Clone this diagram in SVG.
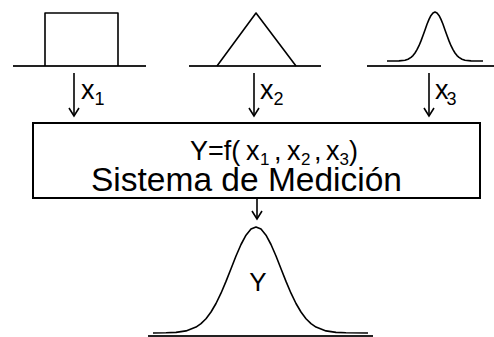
<svg xmlns="http://www.w3.org/2000/svg" width="494" height="337" viewBox="0 0 494 337">
<style>
.ln{fill:none;stroke:#000;stroke-width:1.6;stroke-linejoin:round;stroke-linecap:butt}
.base{fill:none;stroke:#222;stroke-width:1.8}
.t{font-family:"Liberation Sans",Arial,sans-serif;fill:#000}
.sub{font-size:17px}
</style>
<defs>
<marker id="ah" markerWidth="12" markerHeight="12" refX="10" refY="6" orient="auto" markerUnits="userSpaceOnUse" viewBox="0 0 12 12">
<path d="M2,1 L10,6 L2,11" fill="none" stroke="#000" stroke-width="1.6"/>
</marker>
</defs>
<rect width="494" height="337" fill="#fff"/>
<g id="dist1">
<line class="base" x1="13" y1="66" x2="146" y2="66"/>
<path class="ln" d="M45,66 V13 H118 V66"/>
</g>
<g id="dist2">
<line class="base" x1="189" y1="66" x2="321" y2="66"/>
<path class="ln" d="M217,66 L256,13 L296,66"/>
</g>
<g id="dist3">
<line class="base" x1="367" y1="66" x2="494" y2="66"/>
<polyline class="ln" points="387,61 399,60.9 405,60.2 408,59.2 411,57.4 413,55.6 415,53 417,49.7 419,45.7 421,40.9 423,35.5 425,29.9 427,24.3 429,19.4 431,15.4 433,12.9 435,12 437,12.9 439,15.4 441,19.4 443,24.3 445,29.9 447,35.5 449,40.9 451,45.7 453,49.7 455,53 457,55.6 459,57.4 462,59.2 465,60.2 471,60.9 483,61"/>
</g>
<g id="label-x1"><text class="t" x="81" y="99" font-size="27">x<tspan font-size="18" dy="6">1</tspan></text></g>
<g id="label-x2"><text class="t" x="260" y="99" font-size="27">x<tspan font-size="18" dy="6">2</tspan></text></g>
<g id="label-x3"><text class="t" x="435" y="99" font-size="27">x<tspan font-size="18" dy="6" dx="-2">3</tspan></text></g>
<g id="system">
<rect x="33" y="123" width="447" height="75" fill="none" stroke="#000" stroke-width="2"/>
<text class="t" y="160" font-size="27"><tspan x="190">Y=f(</tspan><tspan x="246">x</tspan><tspan class="sub" x="260" y="165">1</tspan><tspan x="274" y="160">,</tspan><tspan x="287">x</tspan><tspan class="sub" x="301" y="165">2</tspan><tspan x="314" y="160">,</tspan><tspan x="326">x</tspan><tspan class="sub" x="339.5" y="165">3</tspan><tspan x="349" y="160">)</tspan></text>
<text class="t" x="91" y="191" font-size="33.5">Sistema de Medición</text>
</g>
<g id="output">
<line class="base" x1="148" y1="336" x2="373" y2="336"/>
<polyline class="ln" points="153,333 166,332.8 176,332.4 186,330.9 196,327.1 201,323.6 206,318.7 211,312 216,303.5 221,293.2 226,281.4 231,268.7 236,256 241,244.5 246,235.2 251,229.1 256,227 261,229.1 266,235.2 271,244.5 276,256 281,268.7 286,281.4 291,293.2 296,303.5 301,312 306,318.7 311,323.6 316,327.1 326,330.9 336,332.4 346,332.8 368,333"/>
<text class="t" x="258" y="291" font-size="26" text-anchor="middle">Y</text>
</g>
<g id="connectors">
<line class="ln" x1="74" y1="73" x2="74" y2="116" marker-end="url(#ah)"/>
<line class="ln" x1="254" y1="73" x2="254" y2="116" marker-end="url(#ah)"/>
<line class="ln" x1="429" y1="73" x2="429" y2="116" marker-end="url(#ah)"/>
<line class="ln" x1="257" y1="199" x2="257" y2="219" marker-end="url(#ah)"/>
</g>
</svg>
